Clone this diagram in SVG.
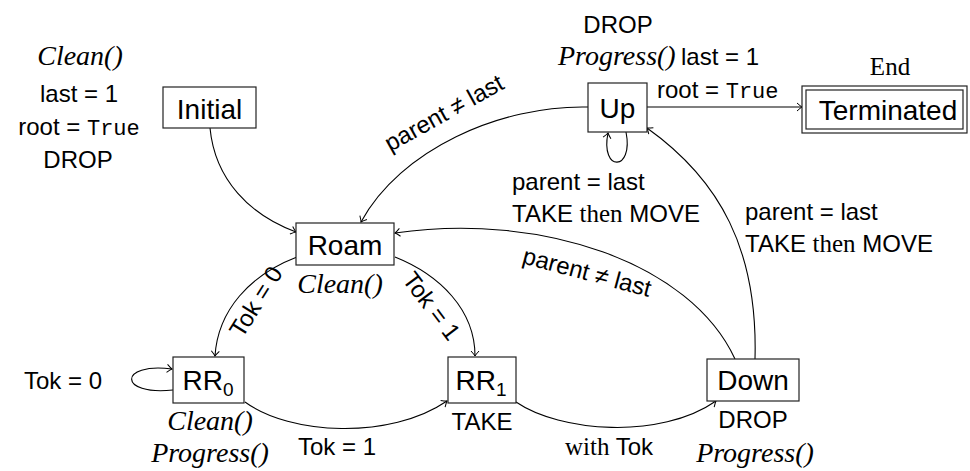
<svg xmlns="http://www.w3.org/2000/svg" width="970" height="471" viewBox="0 0 970 471">
<style>
.box{fill:#fff;stroke:#222;stroke-width:1.2}
.nt{font-family:"Liberation Sans",Arial,sans-serif;font-size:28px;fill:#000;text-anchor:middle}
.lb{font-family:"Liberation Sans",Arial,sans-serif;font-size:24px;fill:#000}
.it{font-family:"Liberation Serif","Times New Roman",serif;font-style:italic;font-size:28px;fill:#000}
.rm{font-family:"Liberation Serif","Times New Roman",serif;font-size:25px}
.tt{font-family:"Liberation Mono","Courier New",monospace;font-size:22px}
.c{text-anchor:middle}
.e{fill:none;stroke:#000;stroke-width:1.1;marker-end:url(#ah)}
</style>
<defs>
<marker id="ah" viewBox="-6 -5 7 10" markerWidth="7" markerHeight="10" refX="0" refY="0" orient="auto" markerUnits="userSpaceOnUse">
<path d="M-5,-4 Q-1.5,-0.8 0,0 Q-1.5,0.8 -5,4" fill="none" stroke="#000" stroke-width="1"/>
</marker>
</defs>

<g id="connectors">
<path class="e" d="M210,128 C215,180 250,215 296,232"/>
<path class="e" d="M588,107 C500,105 400,150 361,222"/>
<path class="e" d="M647,107 L802,107"/>
<path class="e" d="M626,132 C634,172 600,172 608,133"/>
<path class="e" d="M755,359 C758,250 720,180 647,128"/>
<path class="e" d="M735,359 C690,262 540,212 395,233"/>
<path class="e" d="M297,257 C250,275 218,310 215,356"/>
<path class="e" d="M395,257 C440,275 475,310 475,356"/>
<path class="e" d="M173,390 C118,396 118,362 172,369"/>
<path class="e" d="M245,402 C290,435 390,440 447,401"/>
<path class="e" d="M516,402 C560,432 660,440 716,401"/>
</g>

<g id="edge-labels">
<text class="lb c" transform="translate(448,120) rotate(-29)">parent ≠ last</text>
<text class="lb c" transform="translate(585,280) rotate(15)">parent ≠ last</text>
<text class="lb c" transform="translate(263,306) rotate(-58)">Tok = 0</text>
<text class="lb c" transform="translate(425,311) rotate(53)">Tok = 1</text>
<text class="lb" x="102" y="389" text-anchor="end">Tok = 0</text>
<text class="lb" x="298" y="455">Tok = 1</text>
<text class="lb" x="565" y="455"><tspan class="rm">with</tspan> Tok</text>
<text class="lb" x="657" y="98">root = <tspan class="tt">True</tspan></text>
<text class="lb" x="512" y="190">parent = last</text>
<text class="lb" x="512" y="222">TAKE <tspan class="rm">then</tspan> MOVE</text>
<text class="lb" x="745" y="220">parent = last</text>
<text class="lb" x="745" y="252">TAKE <tspan class="rm">then</tspan> MOVE</text>
</g>

<g id="initial">
<rect class="box" x="163" y="87" width="93" height="41"/>
<text class="nt" x="209.5" y="119">Initial</text>
<text class="it c" x="80" y="65">Clean()</text>
<text class="lb c" x="79" y="102">last = 1</text>
<text class="lb c" x="79" y="135">root = <tspan class="tt">True</tspan></text>
<text class="lb c" x="78" y="168">DROP</text>
</g>

<g id="roam">
<rect class="box" x="296" y="223" width="98" height="42"/>
<text class="nt" x="345" y="255">Roam</text>
<text class="it c" x="340" y="293">Clean()</text>
</g>

<g id="rr0">
<rect class="box" x="173" y="357" width="71" height="46"/>
<text class="nt" x="208" y="390">RR<tspan font-size="19" dy="6">0</tspan></text>
<text class="it c" x="210" y="430">Clean()</text>
<text class="it c" x="210" y="462">Progress()</text>
</g>

<g id="rr1">
<rect class="box" x="448" y="357" width="68" height="46"/>
<text class="nt" x="481" y="390">RR<tspan font-size="19" dy="6">1</tspan></text>
<text class="lb c" x="482" y="430">TAKE</text>
</g>

<g id="down">
<rect class="box" x="707" y="359" width="92" height="42"/>
<text class="nt" x="753" y="390">Down</text>
<text class="lb c" x="753" y="428">DROP</text>
<text class="it c" x="755" y="462">Progress()</text>
</g>

<g id="up">
<rect class="box" x="588" y="83" width="59" height="49"/>
<text class="nt" x="617.5" y="118">Up</text>
<text class="lb c" x="618" y="33">DROP</text>
<text class="it" x="558" y="65">Progress()</text>
<text class="lb" x="681" y="65">last = 1</text>
</g>

<g id="terminated">
<rect class="box" x="802" y="86" width="165" height="47"/>
<rect class="box" x="806" y="90" width="157" height="39"/>
<text class="nt" x="888" y="120">Terminated</text>
<text class="rm c" x="890" y="75" font-size="27">End</text>
</g>
</svg>
